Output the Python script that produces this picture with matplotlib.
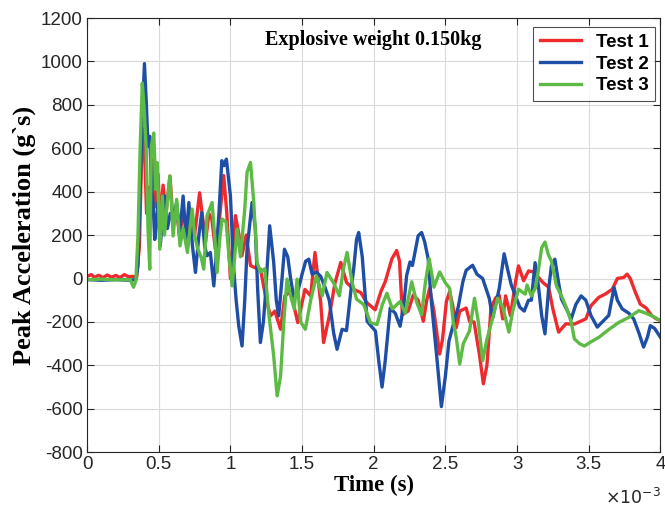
import matplotlib.pyplot as plt

plt.rcParams["axes.unicode_minus"] = False

# time in ms (axis shows x10^-3 s), acceleration in g
test1 = [
    (0.00, 10), (0.03, 18), (0.05, 5), (0.08, 15), (0.11, 4), (0.14, 16), (0.17, 6),
    (0.20, 14), (0.23, 5), (0.26, 18), (0.29, 8), (0.32, 10), (0.345, 5), (0.365, 150),
    (0.38, 560), (0.39, 690), (0.40, 600), (0.415, 300), (0.43, 420), (0.445, 380),
    (0.46, 550), (0.48, 330), (0.495, 480), (0.51, 250), (0.53, 430), (0.55, 300),
    (0.578, 472), (0.60, 260), (0.62, 330), (0.645, 200), (0.67, 300), (0.70, 220),
    (0.72, 260), (0.75, 200), (0.785, 395), (0.81, 260), (0.826, 166), (0.85, 300),
    (0.87, 274), (0.895, 135), (0.92, 250), (0.953, 474), (0.975, 300), (1.00, 0),
    (1.035, 290), (1.06, 200), (1.08, 105), (1.11, 200), (1.14, 60), (1.17, 50),
    (1.21, 43), (1.25, -100), (1.28, -172), (1.31, -150), (1.35, -234), (1.38, -80),
    (1.42, -60), (1.47, -203), (1.52, -50), (1.56, -80), (1.59, 120), (1.63, -110),
    (1.65, -295), (1.69, -172), (1.73, -20), (1.77, 74), (1.81, -18), (1.86, -50),
    (1.91, -65), (1.95, -110), (2.01, -144), (2.05, -60), (2.08, -15), (2.127, 91),
    (2.16, 129), (2.18, 80), (2.20, -167), (2.24, -150), (2.276, -76), (2.31, -100),
    (2.346, -197), (2.37, -100), (2.39, -45), (2.42, -150), (2.46, -348), (2.48, -280),
    (2.507, -106), (2.53, -60), (2.55, -120), (2.576, -227), (2.60, -150), (2.645, -136),
    (2.67, -200), (2.70, -200), (2.737, -348), (2.765, -485), (2.79, -400), (2.818, -136),
    (2.85, -90), (2.875, -76), (2.90, -186), (2.92, -80), (2.954, -171), (2.989, -18),
    (3.01, 58), (3.046, -10), (3.08, 35), (3.12, 30), (3.15, 5), (3.18, -18), (3.22, -40),
    (3.25, -140), (3.29, -247), (3.34, -209), (3.40, -210), (3.48, -186), (3.516, -125),
    (3.57, -87), (3.62, -70), (3.665, -49), (3.70, 0), (3.745, 5), (3.768, 20), (3.79, 0),
    (3.826, -64), (3.86, -118), (3.90, -135), (3.94, -171), (3.97, -185), (4.00, -194),
]
test2 = [
    (0.00, -5), (0.10, -8), (0.20, -5), (0.30, -8), (0.34, -5), (0.355, 60), (0.37, 400),
    (0.385, 750), (0.40, 990), (0.413, 810), (0.425, 610), (0.437, 655), (0.45, 420),
    (0.46, 350), (0.472, 180), (0.485, 280), (0.495, 350), (0.51, 150), (0.525, 260),
    (0.54, 380), (0.56, 230), (0.58, 300), (0.60, 272), (0.625, 350), (0.645, 200),
    (0.67, 380), (0.69, 180), (0.71, 350), (0.735, 150), (0.756, 28), (0.78, 200),
    (0.80, 304), (0.82, 150), (0.837, 105), (0.86, 120), (0.884, -34), (0.90, 100),
    (0.92, 304), (0.94, 543), (0.955, 520), (0.972, 550), (1.00, 381), (1.023, 43),
    (1.04, -100), (1.058, -218), (1.081, -311), (1.10, -100), (1.116, 135), (1.151, 350),
    (1.174, 228), (1.19, -50), (1.209, -295), (1.23, -200), (1.244, -80), (1.274, 243),
    (1.302, 74), (1.32, -100), (1.337, -172), (1.36, 0), (1.377, 135), (1.40, 100),
    (1.42, 0), (1.44, -80), (1.47, -60), (1.50, 20), (1.525, 80), (1.547, 89), (1.57, 20),
    (1.60, 30), (1.63, 10), (1.66, -40), (1.69, -100), (1.72, -250), (1.744, -326),
    (1.779, -234), (1.81, -240), (1.84, -60), (1.86, 43), (1.88, 180), (1.895, 212),
    (1.92, 100), (1.954, -197), (1.98, -218), (2.012, -242), (2.035, -379), (2.058, -500),
    (2.08, -380), (2.115, -136), (2.15, -160), (2.184, -220), (2.21, -120), (2.23, 15),
    (2.253, 76), (2.27, 60), (2.31, 197), (2.334, 212), (2.355, 170), (2.38, 91),
    (2.40, -90), (2.438, -348), (2.472, -590), (2.50, -450), (2.525, -288), (2.56, -200),
    (2.59, -130), (2.622, -15), (2.645, 38), (2.69, 61), (2.72, 20), (2.76, 0),
    (2.806, -91), (2.83, -182), (2.876, -45), (2.91, 114), (2.935, 40), (2.96, -30),
    (2.989, -80), (3.02, -133), (3.05, -150), (3.08, -100), (3.10, -100), (3.126, 73),
    (3.15, -40), (3.172, -171), (3.195, -255), (3.22, -50), (3.24, 58), (3.264, 89),
    (3.29, -20), (3.31, -95), (3.345, -140), (3.378, -186), (3.41, -120), (3.447, -80),
    (3.48, -100), (3.516, -171), (3.56, -224), (3.595, -200), (3.64, -170), (3.677, -41),
    (3.70, -100), (3.734, -140), (3.78, -160), (3.814, -186), (3.85, -250), (3.883, -316),
    (3.91, -270), (3.93, -217), (3.96, -230), (4.00, -270),
]
test3 = [
    (0.00, -5), (0.10, -3), (0.20, -6), (0.30, -5), (0.324, -40), (0.34, -10), (0.355, 200),
    (0.37, 600), (0.385, 900), (0.40, 760), (0.412, 600), (0.425, 227), (0.437, 43),
    (0.448, 610), (0.465, 670), (0.48, 410), (0.49, 533), (0.507, 135), (0.525, 380),
    (0.54, 200), (0.555, 320), (0.577, 472), (0.59, 330), (0.60, 196), (0.625, 365),
    (0.648, 150), (0.67, 230), (0.70, 120), (0.733, 320), (0.75, 200), (0.77, 140),
    (0.795, 100), (0.814, 43), (0.837, 289), (0.872, 350), (0.89, 200), (0.907, 28),
    (0.925, 180), (0.942, 274), (0.97, 260), (0.99, 100), (1.012, -34), (1.03, 100),
    (1.047, 228), (1.07, 100), (1.10, 320), (1.116, 489), (1.14, 535), (1.163, 350),
    (1.186, 74), (1.21, 30), (1.24, 45), (1.267, -157), (1.302, -357), (1.326, -541),
    (1.35, -450), (1.372, -203), (1.395, -3), (1.42, -80), (1.445, -140), (1.465, -3),
    (1.49, -200), (1.523, -234), (1.56, -100), (1.60, 12), (1.64, -80), (1.674, 28),
    (1.72, -20), (1.76, -80), (1.79, 50), (1.814, 120), (1.85, -20), (1.88, -95),
    (1.93, -120), (1.977, -203), (2.023, -212), (2.06, -120), (2.092, -68), (2.13, -140),
    (2.184, -106), (2.22, -160), (2.265, -15), (2.30, -110), (2.334, -167), (2.36, -20),
    (2.387, 91), (2.42, -40), (2.46, 30), (2.50, -20), (2.53, -45), (2.555, -200),
    (2.576, -273), (2.60, -394), (2.625, -300), (2.668, -242), (2.703, -91), (2.73, -200),
    (2.76, -379), (2.79, -280), (2.83, -182), (2.864, -91), (2.90, -130), (2.943, -247),
    (2.97, -150), (3.01, -49), (3.057, -72), (3.07, -30), (3.10, -80), (3.13, -40),
    (3.15, 43), (3.172, 142), (3.195, 168), (3.218, 111), (3.24, 80), (3.275, -34),
    (3.31, -80), (3.344, -133), (3.378, -200), (3.40, -278), (3.436, -300), (3.47, -311),
    (3.52, -290), (3.573, -270), (3.64, -235), (3.711, -202), (3.78, -179), (3.85, -148),
    (3.90, -160), (3.95, -175), (4.00, -194),
]
labels = ["Test 1", "Test 2", "Test 3"]
colors = ["#EE2A2E", "#1F4EA6", "#5DBB45"]

fig = plt.figure(figsize=(6.65, 5.15), dpi=100)
ax = fig.add_axes([0.131, 0.122, 0.862, 0.843])

for series, label, color in zip([test1, test2, test3], labels, colors):
    t = [p[0] for p in series]
    v = [p[1] for p in series]
    ax.plot(t, v, color=color, lw=2.4, label=label)

ax.set_xlim(0, 4)
ax.set_ylim(-800, 1200)
ax.set_xticks([0, 0.5, 1, 1.5, 2, 2.5, 3, 3.5, 4])
ax.set_xticklabels(["0", "0.5", "1", "1.5", "2", "2.5", "3", "3.5", "4"])
ax.set_yticks(range(-800, 1201, 200))
ax.grid(True, color="#DADADA", lw=0.8)
ax.set_axisbelow(True)
ax.tick_params(direction="in", top=True, right=True, length=5, width=0.8,
               labelsize=13.5, colors="#262626", pad=3)
for lab in ax.get_xticklabels() + ax.get_yticklabels():
    lab.set_family("Liberation Sans")
for s in ax.spines.values():
    s.set_color("#262626")
    s.set_linewidth(0.8)

serif = {"family": "Liberation Serif", "weight": "bold"}
ax.set_xlabel("Time (s)", fontsize=16.5, labelpad=1, **serif)
ax.set_ylabel("Peak Acceleration (g`s)", fontsize=19, labelpad=4, **serif)
ax.text(0.5, 0.95, "Explosive weight 0.150kg", transform=ax.transAxes,
        ha="center", va="center", fontsize=14.5, **serif)
fig.text(0.993, 0.035, r"$\times10^{-3}$", ha="right", va="center", fontsize=12.5,
         family="Liberation Sans", color="#262626")

leg = ax.legend(loc="upper right", bbox_to_anchor=(0.991, 0.979), borderaxespad=0,
                frameon=True, fancybox=False, edgecolor="#262626", handlelength=2.2,
                prop={"family": "Liberation Sans", "weight": "bold", "size": 13.5},
                borderpad=0.35, labelspacing=0.25)
leg.get_frame().set_linewidth(0.8)

fig.savefig("out.png", dpi=100)
